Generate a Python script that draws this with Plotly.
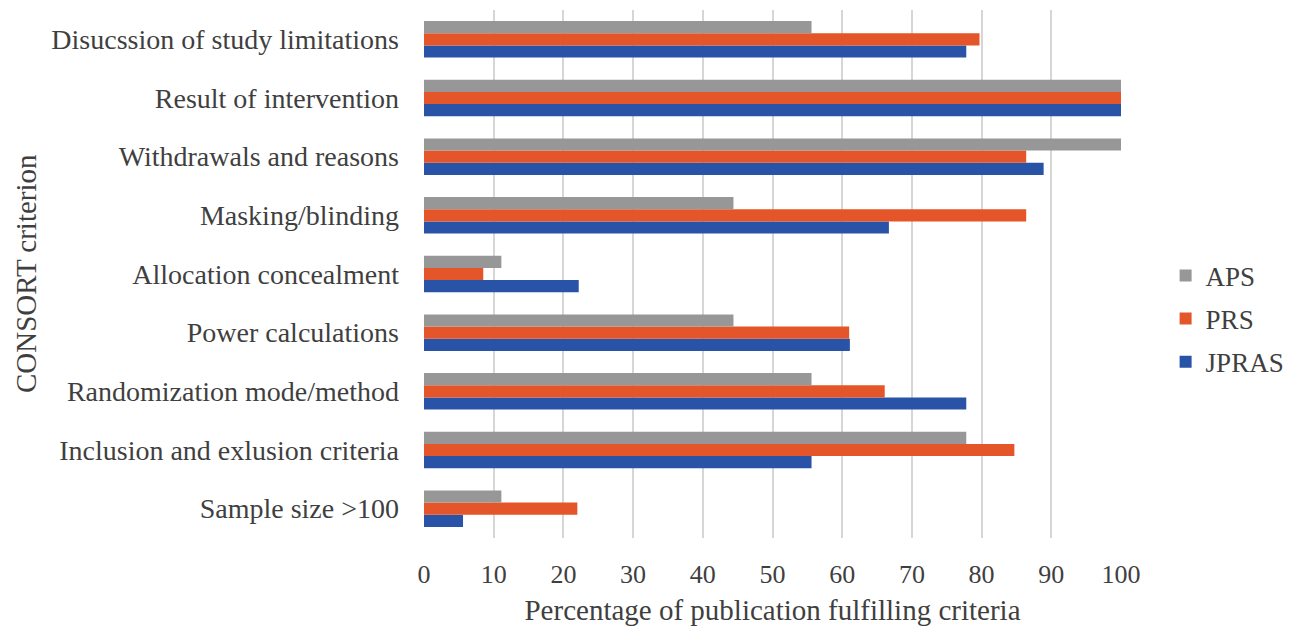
import plotly.graph_objects as go

# CONSORT criteria, listed bottom to top
criteria = [
    "Sample size >100",
    "Inclusion and exlusion criteria",
    "Randomization mode/method",
    "Power calculations",
    "Allocation concealment",
    "Masking/blinding",
    "Withdrawals and reasons",
    "Result of intervention",
    "Disucssion of study limitations",
]

# Percentage of publications fulfilling each criterion
jpras = [5.6, 55.6, 77.8, 61.1, 22.2, 66.7, 88.9, 100, 77.8]
prs = [22.0, 84.7, 66.1, 61.0, 8.5, 86.4, 86.4, 100, 79.7]
aps = [11.1, 77.8, 55.6, 44.4, 11.1, 44.4, 100, 100, 55.6]

x_ticks = list(range(0, 101, 10))

FONT = "'Liberation Serif', 'Times New Roman', Times, serif"
TEXT = "#3f3f3f"


def f(size):
    return dict(family=FONT, size=size, color=TEXT)


fig = go.Figure()
for name, vals, color, rank in [
    ("JPRAS", jpras, "#2853a6", 3),
    ("PRS", prs, "#e4562a", 2),
    ("APS", aps, "#979797", 1),
]:
    fig.add_trace(go.Bar(
        y=criteria, x=vals, name=name, orientation="h",
        marker=dict(color=color, line=dict(width=0)),
        legendgroup=name, legendrank=rank,
    ))

fig.update_layout(
    width=1300, height=630,
    margin=dict(l=424, r=179, t=10, b=90),
    barmode="group", bargap=0.377, bargroupgap=0,
    plot_bgcolor="white", paper_bgcolor="white",
    font=f(27),
    legend=dict(
        x=1.064, y=0.415, xanchor="left", yanchor="middle",
        traceorder="grouped", tracegroupgap=5,
        font=f(27),
        itemwidth=30,
    ),
    showlegend=True,
)
fig.update_xaxes(
    range=[0, 100], tickvals=x_ticks, ticktext=[str(v) for v in x_ticks],
    showgrid=True, gridcolor="#d6d6d6", gridwidth=2,
    zeroline=False, showline=False, ticks="",
    tickfont=f(26), ticklabelstandoff=18,
    title=dict(text="Percentage of publication fulfilling criteria",
               font=f(29), standoff=11),
)
fig.update_yaxes(
    showgrid=False, zeroline=False, showline=False, ticks="",
    tickfont=f(28), ticklabelstandoff=24,
)

# Vertical axis title placed out beyond the category labels
fig.add_annotation(
    text="CONSORT criterion", textangle=-90,
    xref="paper", yref="paper", x=-0.571, y=0.5,
    xanchor="center", yanchor="middle", showarrow=False,
    font=f(29),
)

fig.write_html("out.html")
